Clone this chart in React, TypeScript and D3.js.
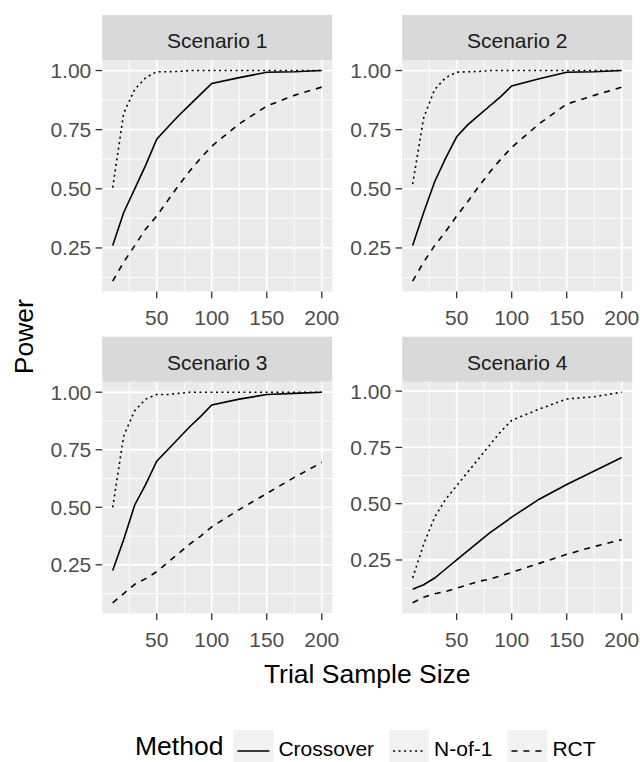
import { useRef, useEffect } from 'react';
import * as d3 from 'd3';

// trial sample sizes on the x axis
const sampleSizes = [10, 20, 30, 40, 50, 60, 70, 80, 90, 100, 125, 150, 175, 200];
const scenarios = ['Scenario 1', 'Scenario 2', 'Scenario 3', 'Scenario 4'];
const methods = ['Crossover', 'N-of-1', 'RCT'];

const s1Crossover = [0.26, 0.40, 0.50, 0.60, 0.71, 0.76, 0.81, 0.855, 0.90, 0.945, 0.97, 0.993, 0.995, 1.0];
const s1Nof1 = [0.505, 0.82, 0.92, 0.97, 0.995, 0.995, 0.996, 1, 1, 1, 1, 1, 1, 1];
const s1Rct = [0.11, 0.19, 0.26, 0.33, 0.385, 0.45, 0.515, 0.575, 0.63, 0.68, 0.775, 0.85, 0.895, 0.93];

const s2Crossover = [0.26, 0.40, 0.53, 0.63, 0.72, 0.77, 0.81, 0.85, 0.89, 0.935, 0.965, 0.993, 0.995, 1.0];
const s2Nof1 = [0.52, 0.80, 0.92, 0.97, 0.993, 0.995, 0.996, 1, 1, 1, 1, 1, 1, 1];
const s2Rct = [0.11, 0.19, 0.26, 0.32, 0.385, 0.445, 0.51, 0.57, 0.625, 0.675, 0.775, 0.858, 0.895, 0.93];

const s3Crossover = [0.225, 0.36, 0.51, 0.60, 0.70, 0.75, 0.80, 0.85, 0.895, 0.945, 0.97, 0.99, 0.995, 1.0];
const s3Nof1 = [0.50, 0.81, 0.92, 0.97, 0.99, 0.99, 0.995, 1, 1, 1, 1, 1, 1, 1];
const s3Rct = [0.085, 0.125, 0.165, 0.19, 0.22, 0.26, 0.30, 0.34, 0.375, 0.415, 0.49, 0.56, 0.63, 0.695];

const s4Crossover = [0.12, 0.14, 0.17, 0.21, 0.25, 0.29, 0.33, 0.37, 0.405, 0.44, 0.52, 0.585, 0.645, 0.705];
const s4Nof1 = [0.17, 0.32, 0.44, 0.52, 0.58, 0.64, 0.70, 0.76, 0.82, 0.87, 0.92, 0.965, 0.975, 0.995];
const s4Rct = [0.06, 0.085, 0.10, 0.11, 0.125, 0.14, 0.155, 0.165, 0.18, 0.195, 0.235, 0.275, 0.31, 0.34];

const panelSeries = [
  [s1Crossover, s1Nof1, s1Rct],
  [s2Crossover, s2Nof1, s2Rct],
  [s3Crossover, s3Nof1, s3Rct],
  [s4Crossover, s4Nof1, s4Rct],
];

const xTicks = [50, 100, 150, 200];
const yTicks = [0.25, 0.5, 0.75, 1.0];

const FONT = "'Liberation Sans', Arial, sans-serif";
const dashFor = (m) => (m === 'N-of-1' ? '2,3.5' : m === 'RCT' ? '6,6' : null);

const expand = ([a, b]) => [a - (b - a) * 0.05, b + (b - a) * 0.05];

const App = () => {
  const svgRef = useRef();

  useEffect(() => {
    const svg = d3.select(svgRef.current);
    svg.selectAll('*').remove();

    const colLeft = [102.25, 402.2];
    const panelW = 230;
    const panelH = 231.6;
    const stripH = 45;
    const rowTop = [60, 381.7];

    scenarios.forEach((name, i) => {
      const left = colLeft[i % 2];
      const top = rowTop[Math.floor(i / 2)];
      const bottom = top + panelH;
      const series = panelSeries[i];

      const x = d3.scaleLinear()
        .domain(expand(d3.extent(sampleSizes)))
        .range([left, left + panelW]);

      const y = d3.scaleLinear()
        .domain(expand(d3.extent(series.flat())))
        .range([bottom, top]);

      const g = svg.append('g');

      g.append('rect')
        .attr('x', left).attr('y', top)
        .attr('width', panelW).attr('height', panelH)
        .attr('fill', '#EBEBEB');

      // minor grid
      const [y0, y1] = y.domain();
      const yMinor = [yTicks[0] - 0.125, ...yTicks.map(t => t + 0.125)].filter(v => v >= y0 && v <= y1);
      const [x0, x1] = x.domain();
      const xMinor = [xTicks[0] - 25, ...xTicks.map(t => t + 25)].filter(v => v >= x0 && v <= x1);

      g.selectAll('.ymin').data(yMinor).join('line')
        .attr('x1', left).attr('x2', left + panelW)
        .attr('y1', d => y(d)).attr('y2', d => y(d))
        .attr('stroke', '#fff').attr('stroke-width', 0.9);
      g.selectAll('.xmin').data(xMinor).join('line')
        .attr('y1', top).attr('y2', bottom)
        .attr('x1', d => x(d)).attr('x2', d => x(d))
        .attr('stroke', '#fff').attr('stroke-width', 0.9);

      // major grid
      g.selectAll('.ymaj').data(yTicks).join('line')
        .attr('x1', left).attr('x2', left + panelW)
        .attr('y1', d => y(d)).attr('y2', d => y(d))
        .attr('stroke', '#fff').attr('stroke-width', 1.8);
      g.selectAll('.xmaj').data(xTicks).join('line')
        .attr('y1', top).attr('y2', bottom)
        .attr('x1', d => x(d)).attr('x2', d => x(d))
        .attr('stroke', '#fff').attr('stroke-width', 1.8);

      // lines
      const line = d3.line()
        .x((d, j) => x(sampleSizes[j]))
        .y(d => y(d));

      methods.forEach((m, k) => {
        g.append('path')
          .datum(series[k])
          .attr('fill', 'none')
          .attr('stroke', '#000')
          .attr('stroke-width', 1.6)
          .attr('stroke-dasharray', dashFor(m))
          .attr('d', line);
      });

      // strip
      g.append('rect')
        .attr('x', left).attr('y', top - stripH)
        .attr('width', panelW).attr('height', stripH)
        .attr('fill', '#D9D9D9');
      g.append('text')
        .attr('x', left + panelW / 2).attr('y', top - 11.7)
        .attr('text-anchor', 'middle')
        .attr('font-family', FONT).attr('font-size', 21)
        .attr('fill', '#1A1A1A')
        .text(name);

      // y axis
      g.selectAll('.ytick').data(yTicks).join('line')
        .attr('x1', left - 6.7).attr('x2', left)
        .attr('y1', d => y(d)).attr('y2', d => y(d))
        .attr('stroke', '#333').attr('stroke-width', 1.3);
      g.selectAll('.ylab').data(yTicks).join('text')
        .attr('x', left - 11)
        .attr('y', d => y(d) + 7.5)
        .attr('text-anchor', 'end')
        .attr('font-family', FONT).attr('font-size', 21)
        .attr('fill', '#4D4D4D')
        .text(d => d3.format('.2f')(d));

      // x axis
      g.selectAll('.xtick').data(xTicks).join('line')
        .attr('y1', bottom).attr('y2', bottom + 6.7)
        .attr('x1', d => x(d)).attr('x2', d => x(d))
        .attr('stroke', '#333').attr('stroke-width', 1.3);
      g.selectAll('.xlab').data(xTicks).join('text')
        .attr('x', d => x(d))
        .attr('y', bottom + 33.5)
        .attr('text-anchor', 'middle')
        .attr('font-family', FONT).attr('font-size', 21)
        .attr('fill', '#4D4D4D')
        .text(d => d);
    });

    // axis titles
    svg.append('text')
      .attr('x', (colLeft[0] + colLeft[1] + panelW) / 2)
      .attr('y', 683)
      .attr('text-anchor', 'middle')
      .attr('font-family', FONT).attr('font-size', 26.5)
      .attr('fill', '#000')
      .text('Trial Sample Size');

    svg.append('text')
      .attr('transform', `translate(33,${(rowTop[0] + rowTop[1] + panelH) / 2}) rotate(-90)`)
      .attr('text-anchor', 'middle')
      .attr('font-family', FONT).attr('font-size', 26.5)
      .attr('fill', '#000')
      .text('Power');

    // legend (bottom of the figure is cropped, as in the source image)
    const ctx = document.createElement('canvas').getContext('2d');
    const measure = (t, size) => { ctx.font = `${size}px ${FONT}`; return ctx.measureText(t).width; };

    const legendTop = 730;
    const keyW = 40;
    const keyH = 32;
    let cx = 135;
    svg.append('text')
      .attr('x', cx).attr('y', 755)
      .attr('font-family', FONT).attr('font-size', 26.5)
      .attr('fill', '#000')
      .text('Method');
    cx += measure('Method', 26.5) + 10;

    methods.forEach(m => {
      svg.append('rect')
        .attr('x', cx).attr('y', legendTop)
        .attr('width', keyW).attr('height', keyH)
        .attr('fill', '#F2F2F2');
      svg.append('line')
        .attr('x1', cx + 4).attr('x2', cx + keyW - 4)
        .attr('y1', legendTop + 21).attr('y2', legendTop + 21)
        .attr('stroke', '#000').attr('stroke-width', 1.6)
        .attr('stroke-dasharray', dashFor(m));
      cx += keyW + 5;
      svg.append('text')
        .attr('x', cx).attr('y', 756)
        .attr('font-family', FONT).attr('font-size', 21)
        .attr('fill', '#000')
        .text(m);
      cx += measure(m, 21) + 15;
    });
  }, []);

  return (
    <svg ref={svgRef} width="640" height="762"
      style={{ position: 'absolute', left: 0, top: 0, background: '#fff' }} />
  );
};

export default App;
